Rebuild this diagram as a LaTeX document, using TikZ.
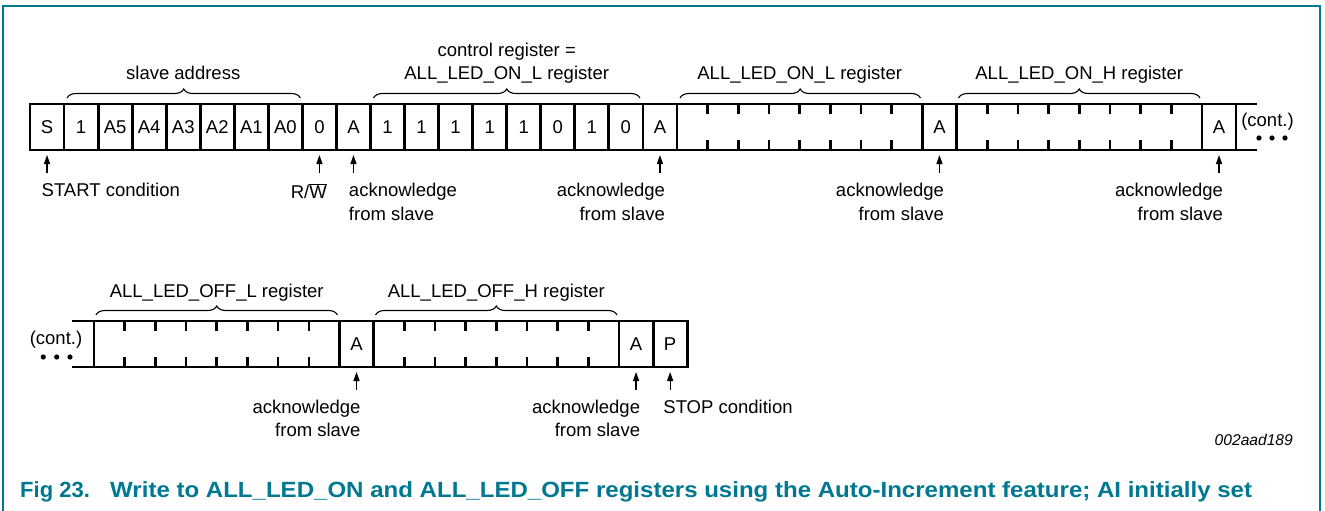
\documentclass[tikz,border=0pt]{standalone}
\usepackage{fontspec}
\setmainfont{Liberation Sans}
\usetikzlibrary{decorations.pathreplacing,arrows.meta,calc}
\definecolor{nxpteal}{RGB}{0,120,145}
\begin{document}
\begin{tikzpicture}[x=1pt,y=-1pt,
  txt/.style={font=\fontsize{18.5pt}{23.5pt}\selectfont, inner sep=0pt, outer sep=0pt},
  cell/.style={txt, draw, line width=2.8pt, minimum height=46pt, anchor=west},
  bitcell/.style={cell, minimum width=34.05pt},
  widecell/.style={cell, minimum width=245.5pt},
  tickmark/.style={line width=2.6pt},
  rail/.style={line width=2.8pt},
  brc/.style={decorate, decoration={brace, amplitude=9pt}, line width=1.1pt},
  arr/.style={line width=1.2pt, -{Triangle[length=9pt,width=6pt]}, shorten >=5pt},
  lblr/.style={txt, align=right, anchor=north east},
  lbll/.style={txt, align=left, anchor=north west},
  caption/.style={font=\fontsize{22pt}{26pt}\selectfont\bfseries, text=nxpteal, inner sep=0pt, anchor=base west},
]
\useasboundingbox (0,0) rectangle (1325,511);
\draw[nxpteal, line width=2pt] (3,513) -- (3,6) -- (1320,6) -- (1320,513);

% ---------- row 1 ----------
\foreach \t [count=\i from 0] in {S,1,A5,A4,A3,A2,A1,A0,0,A,1,1,1,1,1,0,1,0,A}
  \node[bitcell] (c\i) at ({30+\i*34.05},127) {\t};
\node[widecell] (w1) at (c18.east) {};
\node[bitcell] (a1) at (w1.east) {A};
\node[widecell] (w2) at (a1.east) {};
\node[bitcell] (a2) at (w2.east) {A};
\draw[rail] (a2.north east) -- ++(21,0);
\draw[rail] (a2.south east) -- ++(21,0);

% ---------- row 2 ----------
\node[widecell] (w3) at (94,344) {};
\node[bitcell] (a3) at (w3.east) {A};
\node[widecell] (w4) at (a3.east) {};
\node[bitcell] (a4) at (w4.east) {A};
\node[bitcell] (p) at (a4.east) {P};
\draw[rail] (w3.north west) -- ++(-21.7,0);
\draw[rail] (w3.south west) -- ++(-21.7,0);

% ticks
\foreach \w in {w1,w2,w3,w4} \foreach \k in {1,...,7} {
  \draw[tickmark] ($(\w.north west)!\k/8!(\w.north east)$) -- ++(0,10);
  \draw[tickmark] ($(\w.south west)!\k/8!(\w.south east)$) -- ++(0,-10);
}

% continuation marks
\node[txt] (cont1) at (1267.5,122) {(cont.)};
\foreach \x in {1259,1272,1285} \fill (\x,138) circle (2.6pt);
\node[txt] (cont2) at (56,340) {(cont.)};
\foreach \x in {43.3,56.7,70} \fill (\x,357) circle (2.6pt);

% braces and their labels
\draw[brc] ($(c1.north west)+(3,-6)$) -- ($(c7.north east)+(-2,-6)$);
\node[txt, anchor=base] (bsa) at ($(c1.north west)!.5!(c7.north east)+(0,-24)$) {slave address};
\draw[brc] ($(c10.north west)+(3,-6)$) -- ($(c17.north east)+(-3,-6)$);
\node[txt, anchor=base] (bcr1) at ($(c10.north west)!.5!(c17.north east)+(0,-47)$) {control register =};
\node[txt, anchor=base] (bcr2) at ($(c10.north west)!.5!(c17.north east)+(0,-24)$) {ALL\_LED\_ON\_L register};
\draw[brc] ($(w1.north west)+(3,-6)$) -- ($(w1.north east)+(-2,-6)$);
\node[txt, anchor=base] (bonl) at ($(w1.north west)!.5!(w1.north east)+(0,-24)$) {ALL\_LED\_ON\_L register};
\draw[brc] ($(w2.north west)+(2,-6)$) -- ($(w2.north east)+(-2,-6)$);
\node[txt, anchor=base] (bonh) at ($(w2.north west)!.5!(w2.north east)+(0,-24)$) {ALL\_LED\_ON\_H register};
\draw[brc] ($(w3.north west)+(2,-6)$) -- ($(w3.north east)+(-2,-6)$);
\node[txt, anchor=base] (boffl) at ($(w3.north west)!.5!(w3.north east)+(0,-24)$) {ALL\_LED\_OFF\_L register};
\draw[brc] ($(w4.north west)+(2,-6)$) -- ($(w4.north east)+(-2,-6)$);
\node[txt, anchor=base] (boffh) at ($(w4.north west)!.5!(w4.north east)+(0,-24)$) {ALL\_LED\_OFF\_H register};

% arrows
\foreach \c in {c0,c8,c9,c18,a1,a2,a3,a4,p} {
  \coordinate (t\c) at ($(\c.south)+(0,23)$);
  \draw[arr] (t\c) -- (\c);
}

% labels
\node[lbll] (lstart) at ($(c0.south)+(-5.3,33.5)$) {START condition};
\node[txt, anchor=north east] (lrw) at ($(c8.south)+(7.3,33.5)$) {R/$\overline{\hbox{W}}$};
\node[lbll] (lack1) at ($(c9.south)+(-4.5,33.5)$) {acknowledge\\from slave};
\node[lblr] (lack2) at ($(c18.south)+(5,33.5)$) {acknowledge\\from slave};
\node[lblr] (lack3) at ($(a1.south)+(4.5,33.5)$) {acknowledge\\from slave};
\node[lblr] (lack4) at ($(a2.south)+(4,33.5)$) {acknowledge\\from slave};
\node[lblr] (lack5) at ($(a3.south)+(4,33)$) {acknowledge\\from slave};
\node[lblr] (lack6) at ($(a4.south)+(4,33)$) {acknowledge\\from slave};
\node[lbll] (lstop) at ($(p.south)+(-6.7,33)$) {STOP condition};

% figure id and caption
\node[font=\fontsize{15.6pt}{18pt}\selectfont\itshape, inner sep=0pt, anchor=base east] (figid) at (1293,445) {002aad189};
\node[caption] (fignum) at (20,497.5) {Fig 23.};
\node[caption] (figtext) at (110,497.5) {\scalebox{1.093}[1]{Write to ALL\_LED\_ON and ALL\_LED\_OFF registers using the Auto-Increment feature; AI initially set}};
\end{tikzpicture}
\end{document}
